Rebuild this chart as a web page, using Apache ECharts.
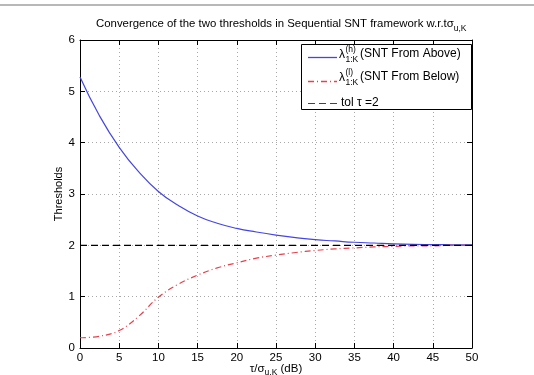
<!DOCTYPE html>
<html>
<head>
<meta charset="utf-8">
<script src="https://cdn.jsdelivr.net/npm/echarts@6/dist/echarts.min.js"></script>
<style>
  html, body { margin: 0; padding: 0; background: #fff; }
  #chart { width: 534px; height: 375px; }
</style>
</head>
<body>
<div id="chart"></div>
<script>
const snrDb = [0, 2.5, 5, 7.5, 10, 12.5, 15, 17.5, 20, 22.5, 25, 27.5, 30, 32.5, 35, 37.5, 40, 42.5, 45, 47.5, 50]
const fromAbove = [5.28, 4.52, 3.91, 3.43, 3.05, 2.78, 2.57, 2.43, 2.33, 2.26, 2.2, 2.15, 2.11, 2.085, 2.06, 2.045, 2.03, 2.02, 2.015, 2.01, 2.01]
const fromBelow = [0.2, 0.23, 0.34, 0.62, 0.99, 1.24, 1.42, 1.56, 1.66, 1.75, 1.81, 1.86, 1.9, 1.93, 1.95, 1.97, 1.98, 1.99, 1.99, 2.0, 2.0]
const tolX = [0, 50]
const tolY = [2, 2]

const font = 'Liberation Sans, Arial, Helvetica, sans-serif'
const blue = '#4545e6'
const red = '#e8404c'

const pairs = (xs, ys) => xs.map((x, i) => [x, ys[i]])

const chart = echarts.init(document.getElementById('chart'))

const baseX = {
  type: 'value', min: 0, max: 50, interval: 5,
  axisLine: { show: true, onZero: false, lineStyle: { color: '#000', width: 1 } },
  axisTick: { show: true, inside: true, length: 5, lineStyle: { color: '#000' } },
  splitLine: { show: false }
}
const baseY = {
  type: 'value', min: 0, max: 6, interval: 1,
  axisLine: { show: true, onZero: false, lineStyle: { color: '#000', width: 1 } },
  axisTick: { show: true, inside: true, length: 5, lineStyle: { color: '#000' } },
  splitLine: { show: false }
}

const txt = (text, left, top, size) => ({
  type: 'text', left, top, z: 11,
  style: { text, font: size + 'px ' + font, fill: '#000' }
})

chart.setOption({
  animation: false,
  backgroundColor: '#fff',
  textStyle: { fontFamily: font },
  title: {
    text: '{m|Convergence of the two thresholds in Sequential SNT framework w.r.t\u03c3}{s|u,K}',
    left: 91, top: 10,
    textStyle: {
      fontWeight: 'normal',
      rich: {
        m: { fontSize: 11.4, fontFamily: font, fontWeight: 'normal', color: '#000', lineHeight: 18 },
        s: { fontSize: 8.5, fontFamily: font, fontWeight: 'normal', color: '#000', lineHeight: 7, verticalAlign: 'bottom' }
      }
    }
  },
  grid: { left: 80, right: 62, top: 40, bottom: 27, outerBoundsMode: 'none', containLabel: false },
  xAxis: [
    {
      ...baseX,
      position: 'bottom',
      axisLabel: { fontSize: 11.5, color: '#000', margin: 4, fontFamily: font },
      splitLine: { show: true, lineStyle: { type: [1, 3], color: '#a8a8a8' } },
      name: '{m|\u03c4/\u03c3}{s|u,K}{m| (dB)}',
      nameLocation: 'middle', nameGap: 13, nameMoveOverlap: false,
      nameTextStyle: {
        rich: {
          m: { fontSize: 11.5, fontFamily: font, color: '#000', lineHeight: 16 },
          s: { fontSize: 8.5, fontFamily: font, color: '#000', lineHeight: 6, verticalAlign: 'bottom' }
        }
      }
    },
    { ...baseX, position: 'top', axisLabel: { show: false } }
  ],
  yAxis: [
    {
      ...baseY,
      position: 'left',
      axisLabel: { fontSize: 11.5, color: '#000', margin: 5, fontFamily: font },
      splitLine: { show: true, lineStyle: { type: [1, 3], color: '#a8a8a8' } },
      name: 'Thresholds', nameLocation: 'middle', nameGap: 16, nameMoveOverlap: false,
      nameTextStyle: { fontSize: 11, color: '#000', fontFamily: font }
    },
    { ...baseY, position: 'right', axisLabel: { show: false } }
  ],
  series: [
    {
      name: 'above', type: 'line', data: pairs(snrDb, fromAbove),
      smooth: 0.5, showSymbol: false, symbol: 'none',
      lineStyle: { color: blue, width: 1.2 }
    },
    {
      name: 'below', type: 'line', data: pairs(snrDb, fromBelow),
      smooth: 0.4, showSymbol: false, symbol: 'none',
      lineStyle: { color: red, width: 1.2, type: [6, 3, 1, 3] }
    },
    {
      name: 'tol', type: 'line', data: pairs(tolX, tolY),
      showSymbol: false, symbol: 'none',
      lineStyle: { color: '#000', width: 1.1, type: [7, 4] }
    }
  ],
  graphic: [
    // thin rule at the top of the figure
    { type: 'line', shape: { x1: 0, y1: 5, x2: 534, y2: 5 }, style: { stroke: '#a0a0a0', lineWidth: 1.5 }, silent: true },
    // legend box
    { type: 'rect', shape: { x: 301.5, y: 44.5, width: 170, height: 65 }, style: { fill: '#fff', stroke: '#000', lineWidth: 1 }, z: 10 },
    { type: 'line', shape: { x1: 308, y1: 57.5, x2: 337, y2: 57.5 }, style: { stroke: blue, lineWidth: 1.3 }, z: 11 },
    { type: 'line', shape: { x1: 308, y1: 81.5, x2: 337, y2: 81.5 }, style: { stroke: red, lineWidth: 1.3, lineDash: [6, 3, 1, 3] }, z: 11 },
    { type: 'line', shape: { x1: 308, y1: 103.5, x2: 338, y2: 103.5 }, style: { stroke: '#444', lineWidth: 1.2, lineDash: [7, 4] }, z: 11 },
    txt('\u03bb', 339, 49, 12),
    txt('(h)', 345.5, 45, 8.5),
    txt('1:K', 345.5, 55, 8.5),
    txt('(SNT From Above)', 360, 47.5, 12),
    txt('\u03bb', 339, 72, 12),
    txt('(l)', 345.5, 68, 8.5),
    txt('1:K', 345.5, 78, 8.5),
    txt('(SNT From Below)', 360, 70.5, 12),
    txt('tol \u03c4 =2', 341, 97, 12)
  ]
})
</script>
</body>
</html>
